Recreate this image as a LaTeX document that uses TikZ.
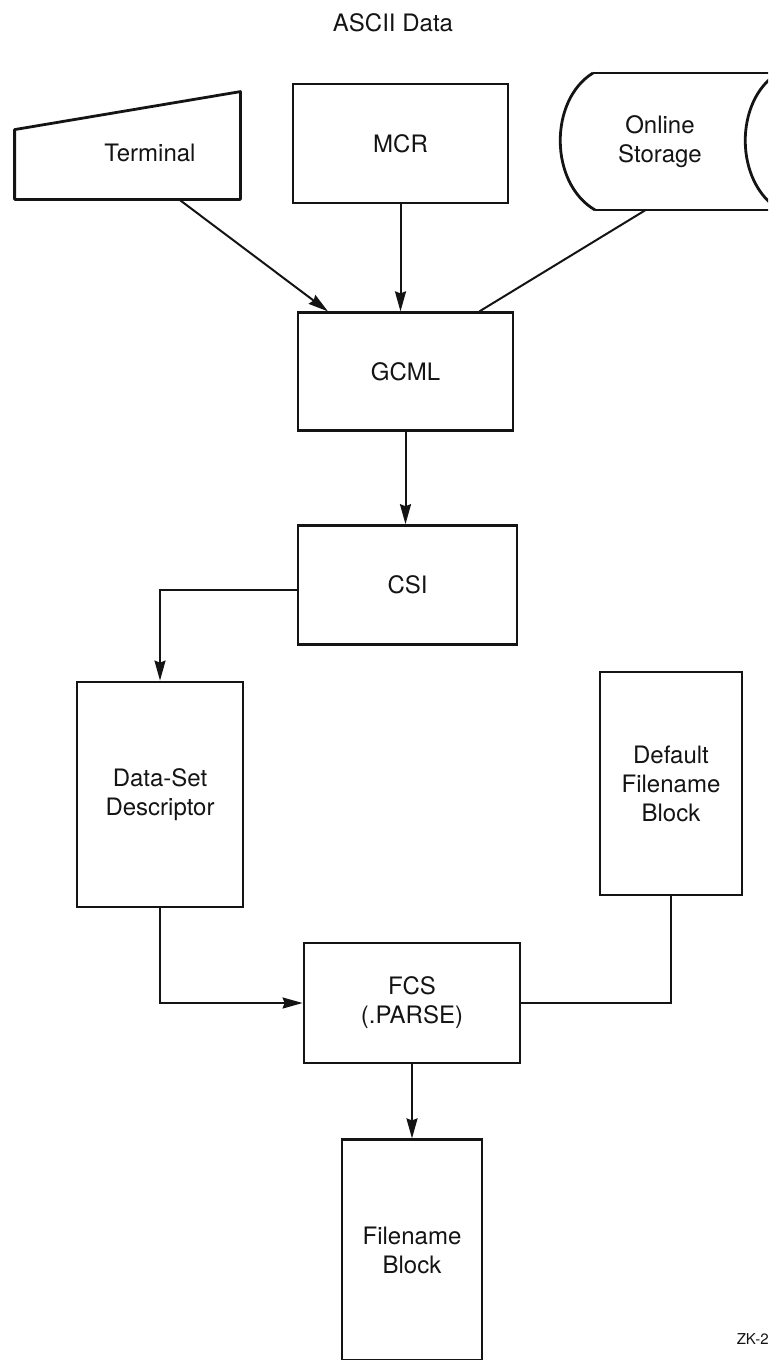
\documentclass[tikz,border=0pt]{standalone}
\usepackage{fontspec}
\setmainfont{TeX Gyre Heros}
\usepackage{xcolor}
\usepackage{tikz}
\usetikzlibrary{positioning, arrows.meta, calc}
\definecolor{ink}{RGB}{20, 20, 20}

\begin{document}
\begin{tikzpicture}[
        x=0.5pt, y=-0.5pt,
        every node/.style={font=\fontsize{12}{14.5}\selectfont, text=ink, align=center},
        box/.style={rectangle, draw=ink, line width=1.4pt, inner sep=0pt, minimum width=#1},
        frame/.style={draw=ink, line width=1.4pt, line join=round},
        flow/.style={draw=ink, line width=1pt, -{Stealth[length=10pt, width=5.5pt, inset=1pt]}},
        link/.style={draw=ink, line width=1pt}
    ]
        \useasboundingbox (0,0) rectangle (768,1360);

        \node (title) at (393,23) {ASCII Data};

        \node (term) [minimum width=112.5pt, minimum height=53.5pt, inner sep=0pt] at (127.5,145.5) {};
        \draw[frame] (term.south west) -- (term.south east) -- (term.north east) -- ($(term.north west)+(0,38)$) -- cycle;
        \node (termtext) at (150,153) {Terminal};

        \node (mcr) [box=107.5pt, minimum height=59.5pt] at (400.5,143.5) {MCR};

        \node (store) [minimum width=100pt, minimum height=68.5pt, inner sep=0pt] at (660,141.5) {Online\\Storage};
        \begin{scope}
            \clip (0,0) rectangle (768,1360);
            \draw[frame] (593,73) -- (800,73);
            \draw[frame] (595,210) -- (800,210);
            \draw[frame] (593,73) .. controls (549,100) and (549,183) .. (595,210);
            \draw[frame] (778,73) .. controls (734,100) and (734,183) .. (780,210);
        \end{scope}

        \node (gcml) [box=107.5pt, minimum height=59pt, below=53.5pt of mcr, xshift=2.5pt] {GCML};
        \node (csi) [box=109.5pt, minimum height=59.5pt, below=46pt of gcml, xshift=1pt] {CSI};

        \node (dsd) [box=83pt, minimum height=112.5pt] at (160,794.5) {Data-Set\\Descriptor};
        \node (deflt) [box=71pt, minimum height=111.5pt] at (671,783.5) {Default\\Filename\\Block};

        \node (fcs) [box=108pt, minimum height=60pt] at (412,1003) {FCS\\(.PARSE)};
        \node (fname) [box=70pt, minimum height=110.5pt, below=37pt of fcs] {Filename\\Block};

        \node (zk) [anchor=east, inner sep=0pt, font=\fontsize{7.5}{9}\selectfont] at (769,1339) {ZK-2};

        \draw[flow] ([xshift=25.75pt]term.south) -- ([xshift=-38.75pt]gcml.north);
        \draw[flow] (mcr) -- (mcr |- gcml.north);
        \draw[link] ([xshift=-7.5pt]store.south) -- ([xshift=-17.5pt]gcml.north east);
        \draw[flow] (gcml) -- (gcml.south |- csi.north);
        \draw[flow] ([yshift=-2.5pt]csi.west) -| (dsd.north);
        \draw[flow] (dsd.south) |- (fcs.west);
        \draw[link] (fcs.east) -| (deflt.south);
        \draw[flow] (fcs) -- (fcs.south |- fname.north);
    \end{tikzpicture}
\end{document}
